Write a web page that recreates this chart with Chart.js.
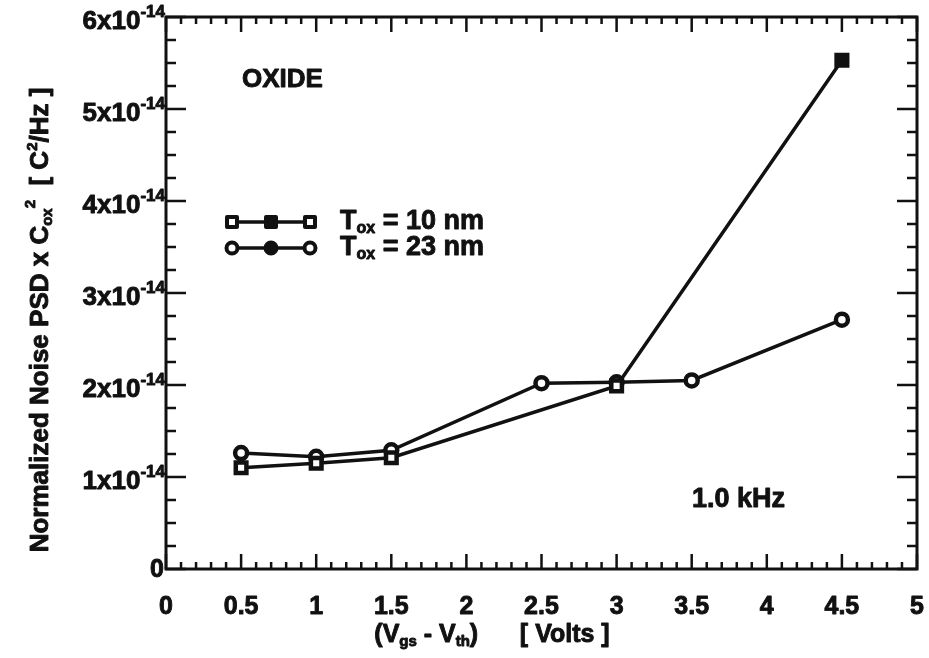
<!DOCTYPE html>
<html>
<head>
<meta charset="utf-8">
<script src="https://cdn.jsdelivr.net/npm/chart.js@4.4.0/dist/chart.umd.min.js"></script>
<style>
  html, body { margin: 0; padding: 0; background: #fff; }
  #wrap { width: 929px; height: 658px; }
</style>
</head>
<body>
<div id="wrap"><canvas id="noiseChart" width="929" height="658"></canvas></div>
<script>
const FONT = "'Liberation Sans', Arial, sans-serif";
const INK = "#111";

// Tox = 10 nm (squares)
const vgs10 = [0.5, 1, 1.5, 3, 4.5];
const psd10 = [1.10e-14, 1.15e-14, 1.21e-14, 1.99e-14, 5.53e-14];

// Tox = 23 nm (circles)
const vgs23 = [0.5, 1, 1.5, 2.5, 3, 3.5, 4.5];
const psd23 = [1.26e-14, 1.22e-14, 1.29e-14, 2.02e-14, 2.03e-14, 2.05e-14, 2.71e-14];

const xTickValues = [0, 0.5, 1, 1.5, 2, 2.5, 3, 3.5, 4, 4.5, 5];
const xTickLabels = ["0", "0.5", "1", "1.5", "2", "2.5", "3", "3.5", "4", "4.5", "5"];
const yTickValues = [0, 1e-14, 2e-14, 3e-14, 4e-14, 5e-14, 6e-14];
const yTickMantissas = ["0", "1", "2", "3", "4", "5", "6"];

const toPoints = (xs, ys) => xs.map((x, i) => ({ x, y: ys[i] }));

// draws a run of text pieces with their own size / vertical offset,
// with a thin outline so the bold face looks heavier
const drawRich = (ctx, parts, x, y, align) => {
  let width = 0;
  parts.forEach((p) => {
    ctx.font = `bold ${p.size}px ${FONT}`;
    p.w = ctx.measureText(p.text).width;
    width += p.w;
  });
  let cx = align === "right" ? x - width : align === "center" ? x - width / 2 : x;
  ctx.textAlign = "left";
  ctx.textBaseline = "middle";
  ctx.lineWidth = 0.9;
  ctx.lineJoin = "round";
  parts.forEach((p) => {
    ctx.font = `bold ${p.size}px ${FONT}`;
    ctx.fillText(p.text, cx, y + (p.dy || 0));
    ctx.strokeText(p.text, cx, y + (p.dy || 0));
    cx += p.w;
  });
};

const frameAndTicks = {
  id: "frameAndTicks",
  beforeDatasetsDraw(chart) {
    const { ctx, chartArea: a, scales } = chart;
    const xs = scales.x;
    const ys = scales.y;
    ctx.save();
    ctx.strokeStyle = INK;
    ctx.fillStyle = INK;
    ctx.lineWidth = 3;
    ctx.strokeRect(a.left, a.top, a.right - a.left, a.bottom - a.top);

    ctx.lineWidth = 2.5;
    ctx.beginPath();
    for (let i = 0; i <= 50; i++) {
      const px = xs.getPixelForValue(i / 10);
      const len = i % 5 === 0 ? 15 : 7;
      ctx.moveTo(px, a.bottom);
      ctx.lineTo(px, a.bottom - len);
      ctx.moveTo(px, a.top);
      ctx.lineTo(px, a.top + len);
    }
    for (let i = 0; i <= 24; i++) {
      const py = ys.getPixelForValue(i * 0.25e-14);
      const len = i % 4 === 0 ? 20 : 10;
      ctx.moveTo(a.left, py);
      ctx.lineTo(a.left + len, py);
      ctx.moveTo(a.right, py);
      ctx.lineTo(a.right - len, py);
    }
    ctx.stroke();
    ctx.restore();
  },
  afterDraw(chart) {
    const { ctx, chartArea: a, scales } = chart;
    const xs = scales.x;
    const ys = scales.y;
    ctx.save();
    ctx.fillStyle = INK;
    ctx.strokeStyle = INK;

    // x tick labels
    xTickValues.forEach((v, i) => {
      drawRich(ctx, [{ text: xTickLabels[i], size: 25 }], xs.getPixelForValue(v), 607, "center");
    });

    // y tick labels, written as mantissa x 10^-14
    yTickValues.forEach((v, i) => {
      const py = ys.getPixelForValue(v);
      if (v === 0) {
        drawRich(ctx, [{ text: "0", size: 25 }], a.left - 2, py + 1, "right");
      } else {
        drawRich(ctx, [
          { text: yTickMantissas[i] + "x10", size: 26, dy: 5 },
          { text: "-14", size: 17, dy: -5 },
        ], a.left - 1, py, "right");
      }
    });

    // axis titles
    drawRich(ctx, [
      { text: "(V", size: 25 },
      { text: "gs", size: 15, dy: 7 },
      { text: " - V", size: 25 },
      { text: "th", size: 15, dy: 7 },
      { text: ")      [ Volts ]", size: 25 },
    ], 492, 635, "center");

    ctx.save();
    ctx.translate(41, 320);
    ctx.rotate(-Math.PI / 2);
    drawRich(ctx, [
      { text: "Normalized Noise PSD x C", size: 26 },
      { text: "ox", size: 15, dy: 7 },
      { text: "2", size: 15, dy: -10 },
      { text: "  [ C", size: 26 },
      { text: "2", size: 15, dy: -8 },
      { text: "/Hz ]", size: 26 },
    ], 0, 0, "center");
    ctx.restore();

    // annotations
    drawRich(ctx, [{ text: "OXIDE", size: 26 }], 242, 80, "left");
    drawRich(ctx, [{ text: "1.0 kHz", size: 27 }], 692, 500, "left");

    // legend
    const rows = [
      { y: 222, style: "rect", label: " = 10 nm" },
      { y: 248, style: "circle", label: " = 23 nm" },
    ];
    rows.forEach((r) => {
      ctx.strokeStyle = INK;
      ctx.lineWidth = 3.5;
      ctx.beginPath();
      ctx.moveTo(232, r.y);
      ctx.lineTo(310, r.y);
      ctx.stroke();
      [232, 271, 310].forEach((mx, k) => {
        ctx.beginPath();
        if (r.style === "rect") ctx.rect(mx - 5, r.y - 5, 10, 10);
        else ctx.arc(mx, r.y, 5.5, 0, Math.PI * 2);
        ctx.fillStyle = k === 1 ? INK : "#fff";
        ctx.fill();
        ctx.lineWidth = 4;
        ctx.stroke();
      });
      ctx.fillStyle = INK;
      drawRich(ctx, [
        { text: "T", size: 27 },
        { text: "ox", size: 16, dy: 7 },
        { text: r.label, size: 27 },
      ], 340, r.y, "left");
    });
    ctx.restore();
  },
};

const markerFill = (n, filledIndex) =>
  Array.from({ length: n }, (_, i) => (i === filledIndex ? INK : "#fff"));

new Chart(document.getElementById("noiseChart"), {
  type: "line",
  data: {
    datasets: [
      {
        label: "Tox = 10 nm",
        data: toPoints(vgs10, psd10),
        borderColor: INK,
        borderWidth: 3.5,
        pointStyle: "rect",
        pointRadius: 7.5,
        pointBorderWidth: 4.5,
        pointBorderColor: INK,
        pointBackgroundColor: markerFill(vgs10.length, vgs10.length - 1),
        tension: 0,
      },
      {
        label: "Tox = 23 nm",
        data: toPoints(vgs23, psd23),
        borderColor: INK,
        borderWidth: 3.5,
        pointStyle: "circle",
        pointRadius: 6,
        pointBorderWidth: 4.5,
        pointBorderColor: INK,
        pointBackgroundColor: "#fff",
        tension: 0,
      },
    ],
  },
  options: {
    responsive: false,
    animation: false,
    layout: { padding: { left: 158, right: 10, top: 17, bottom: 81 } },
    scales: {
      x: {
        type: "linear",
        min: 0,
        max: 5,
        grid: { display: false },
        border: { display: false },
        ticks: { display: false },
      },
      y: {
        type: "linear",
        min: 0,
        max: 6e-14,
        grid: { display: false },
        border: { display: false },
        ticks: { display: false },
      },
    },
    plugins: {
      legend: { display: false },
      tooltip: { enabled: false },
    },
  },
  plugins: [frameAndTicks],
});
</script>
</body>
</html>
